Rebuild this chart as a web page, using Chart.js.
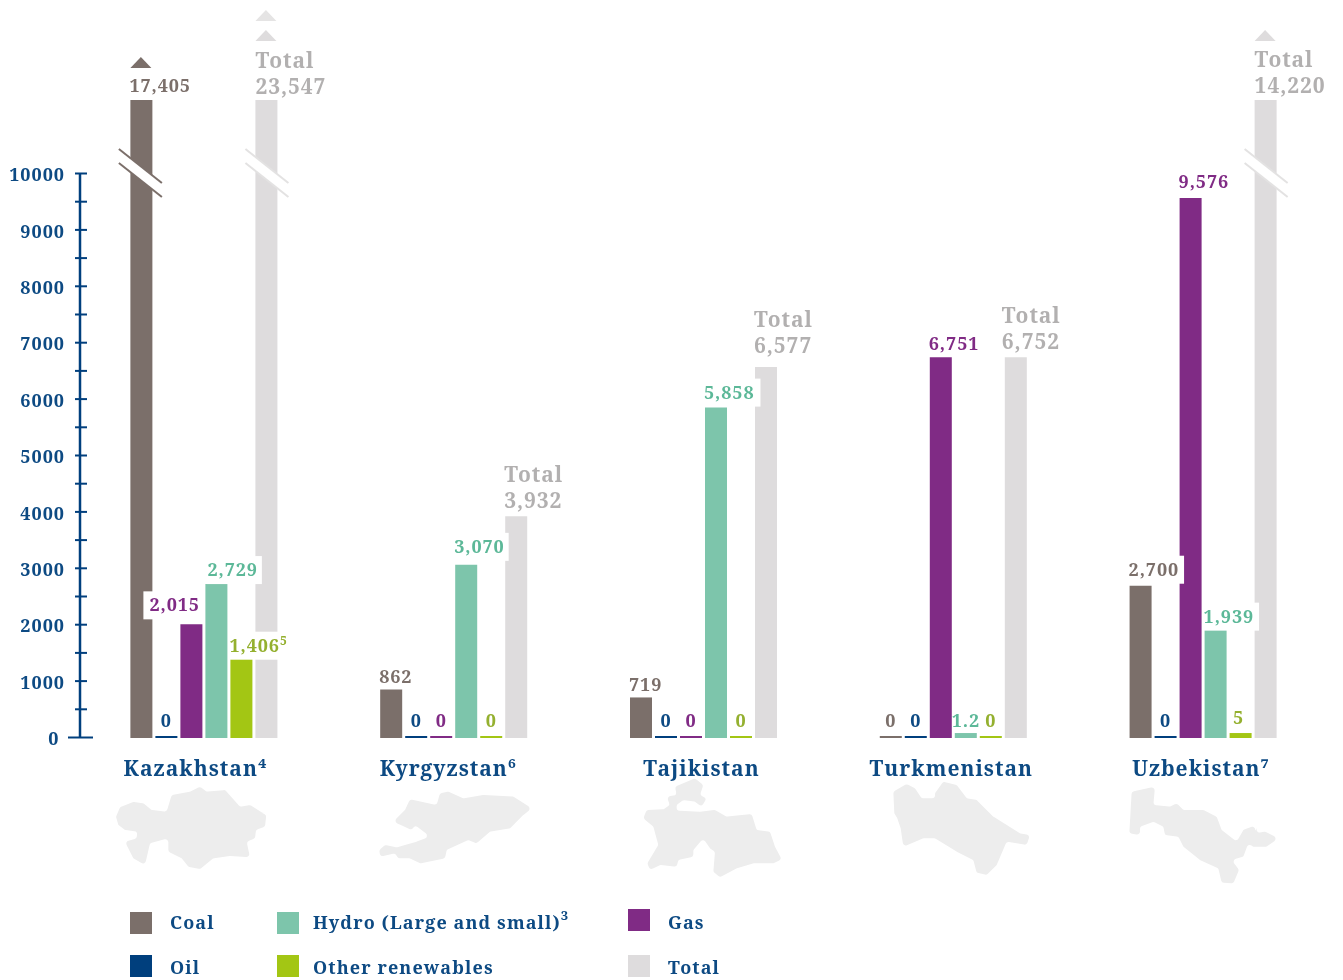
<!DOCTYPE html>
<html>
<head>
<meta charset="utf-8">
<title>Electricity generation by source</title>
<style>html,body{margin:0;padding:0;background:#fff}canvas{display:block}</style>
<script src="https://cdn.jsdelivr.net/npm/chart.js@4"></script>
</head>
<body>
<canvas id="c" width="1343" height="980"></canvas>
<script>
const categories = ['Kazakhstan⁴', 'Kyrgyzstan⁶', 'Tajikistan', 'Turkmenistan', 'Uzbekistan⁷'];
const coal  = [17405, 862, 719, 0, 2700];
const oil   = [0, 0, 0, 0, 0];
const gas   = [2015, 0, 0, 6751, 9576];
const hydro = [2729, 3070, 5858, 1.2, 1939];
const other = [1406, 0, 0, 0, 5];
const total = [23547, 3932, 6577, 6752, 14220];
const yTicks = [0,500,1000,1500,2000,2500,3000,3500,4000,4500,5000,5500,6000,6500,7000,7500,8000,8500,9000,9500,10000];

// the axis is broken above 10000: taller bars stop at this height
const breakCeil = 11312;
const smallFloor = 88;
const show = v => v === 0 ? 0 : Math.min(Math.max(v, smallFloor), breakCeil);

const FONT = '"Noto Serif","DejaVu Serif",serif';
const BLUE = '#0d4a83';
const series = [
  {label:'Coal', values:coal, color:'#7b6f6a', text:'#7b6f6a', cut:'#7b6f6a'},
  {label:'Oil', values:oil, color:'#003f7d', text:'#0d4a83'},
  {label:'Gas', values:gas, color:'#802b85', text:'#802b85'},
  {label:'Hydro (Large and small)', values:hydro, color:'#7dc5ab', text:'#5cb898'},
  {label:'Other renewables', values:other, color:'#a3c614', text:'#94b02f'},
  {label:'Total', values:total, color:'#dedcdd', text:'#b2b0b0', cut:'#e3e2e2'}
];
// label tweaks: "series,country" -> horizontal nudge / vertical nudge / white plate padding
const nudge = {'2,0':-30,'3,0':3,'4,4':-2,'5,0':1,'5,3':-2,'5,4':1};
const nudgeY = {'0,0':3,'0,1':4,'0,2':4,'0,4':1,'2,0':-2,'2,3':4,'2,4':1,'3,0':3,'3,1':-1,'3,2':2,'3,4':5,'4,0':4,'5,0':4,'5,1':2,'5,2':-4,'5,3':2,'5,4':3};
const plates = {'2,0':[6,1],'3,0':[1,4],'4,0':[0,0],'3,1':[1,4],'3,2':[1,6],'0,4':[1,5],'3,4':[1,5]};
const superscripts = {'4,0':'5'};
const labelPad = ['\u00a0\u00a0','\u00a0','','',''];

const legendCells = [
  [0,130,912,170,924],[1,130,955,170,969],[3,277,912,313,924],
  [4,277,955,313,969],[2,628,909,668,924],[5,628,955,668,969]
];

const maps = [
 [[48,140],[60,112],[100,96],[130,100],[155,120],[200,125],[215,75],[270,65],[300,50],[320,65],[375,60],[420,110],[450,105],[490,130],[500,125],[495,170],[468,180],[465,205],[440,215],[450,262],[390,258],[340,265],[300,297],[265,290],[245,265],[205,245],[205,205],[150,220],[135,285],[100,265],[75,215],[110,205],[112,185],[75,180],[55,165]],
 [[880,155],[915,120],[930,88],[1010,105],[1020,70],[1045,65],[1090,85],[1150,75],[1240,80],[1295,115],[1270,135],[1230,175],[1170,185],[1130,220],[1105,210],[1040,240],[1035,265],[960,280],[930,265],[895,265],[885,250],[840,260],[838,240],[855,225],[890,232],[915,225],[950,215],[990,200],[945,165],[935,180]],
 [[405,25],[430,45],[420,75],[440,85],[425,110],[405,95],[370,90],[350,105],[350,122],[420,125],[465,120],[500,140],[575,132],[590,180],[630,185],[645,230],[665,268],[640,280],[580,280],[530,295],[480,322],[460,305],[465,245],[450,235],[430,205],[400,240],[400,260],[355,270],[350,290],[300,285],[270,300],[262,280],[295,225],[280,170],[250,145],[260,120],[310,118],[330,105],[320,80],[350,75],[345,50]],
 [[1000,65],[1040,42],[1065,55],[1085,85],[1125,85],[1125,70],[1150,35],[1190,45],[1220,85],[1250,90],[1300,140],[1380,190],[1410,195],[1400,225],[1340,215],[1310,285],[1280,315],[1250,308],[1240,270],[1190,245],[1125,205],[1090,205],[1030,230],[1022,175],[1012,145],[1003,130]],
 [[275,755],[345,740],[340,795],[390,800],[410,790],[430,810],[490,810],[530,830],[545,870],[590,905],[610,870],[660,850],[640,880],[675,875],[715,895],[680,920],[640,920],[625,910],[610,950],[575,960],[597,990],[580,1030],[545,1028],[535,985],[480,960],[430,920],[415,890],[375,885],[370,860],[340,845],[300,860],[300,885],[268,880]]
];
const mapOrigin = [[100,770],[100,770],[560,770],[560,770],[1040,540]];

const artPlugin = {
  id:'art',
  beforeDraw(chart){
    // the axis texts of the reference are slightly letter-spaced
    if ('letterSpacing' in chart.ctx) chart.ctx.letterSpacing = '1px';
  },
  beforeDatasetsDraw(chart){
    const ctx = chart.ctx, y = chart.scales.y, xAxis = Math.round(chart.chartArea.left)+1.5;
    ctx.save();
    // silhouettes with slightly rounded corners
    ctx.fillStyle = '#ededed';
    maps.forEach((m,i)=>{
      const pts = m.map(([a,b])=>[mapOrigin[i][0]+a/3, mapOrigin[i][1]+b/3]);
      const n = pts.length;
      ctx.beginPath();
      ctx.moveTo((pts[n-1][0]+pts[0][0])/2,(pts[n-1][1]+pts[0][1])/2);
      pts.forEach(([px,py],k)=>{
        const [nx,ny] = pts[(k+1)%n];
        ctx.arcTo(px,py,(px+nx)/2,(py+ny)/2,3);
      });
      ctx.closePath(); ctx.fill();
    });
    // axis line and ticks
    ctx.strokeStyle = '#003f7d';
    ctx.lineWidth = 2.5;
    ctx.beginPath();
    ctx.moveTo(xAxis-0.5, y.getPixelForValue(10000)-1);
    ctx.lineTo(xAxis-0.5, y.getPixelForValue(0));
    ctx.stroke();
    ctx.lineWidth = 2;
    y.ticks.forEach(t=>{
      const py = y.getPixelForValue(t.value)-0.5;
      ctx.beginPath();
      ctx.moveTo(t.value===0 ? 68 : 75, py);
      ctx.lineTo(t.value===0 ? 93 : 87, py);
      ctx.stroke();
    });
    // legend
    ctx.textBaseline = 'middle'; ctx.textAlign = 'left';
    ctx.font = 'bold 18px '+FONT;
    ctx.letterSpacing = '1.1px';
    legendCells.forEach(([s,bx,by,tx,ty])=>{
      const d = chart.data.datasets[s];
      ctx.fillStyle = d.backgroundColor;
      ctx.fillRect(bx,by,22,22);
      ctx.fillStyle = BLUE;
      ctx.fillText(d.label,tx,ty);
      if (s===3){
        const w = ctx.measureText(d.label).width;
        ctx.font = 'bold 13px '+FONT;
        ctx.fillText('3',tx+w,ty-8);
        ctx.font = 'bold 18px '+FONT;
      }
    });
    ctx.restore();
  },
  afterDatasetsDraw(chart){
    const ctx = chart.ctx;
    ctx.save();
    // axis-break marks on clipped bars
    series.forEach((s,si)=>{
      s.values.forEach((v,ci)=>{
        if (v <= breakCeil) return;
        const el = chart.getDatasetMeta(si).data[ci];
        const shift = si===5 ? 2 : 0.5;
        const dx1 = el.x-23+shift, dx2 = el.x+20+shift;
        ctx.fillStyle = '#fff';
        ctx.beginPath();
        ctx.moveTo(dx1,149);ctx.lineTo(dx2,183);ctx.lineTo(dx2,197);ctx.lineTo(dx1,163);
        ctx.closePath();ctx.fill();
        ctx.strokeStyle = s.cut; ctx.lineWidth = 2;
        [[149,183],[163,197]].forEach(([a,b])=>{
          ctx.beginPath();ctx.moveTo(dx1,a);ctx.lineTo(dx2,b);ctx.stroke();
        });
        // arrows over clipped bars
        const twoLine = si===5;
        const base = el.y-(twoLine?59:32);
        const n = v>=20000 ? 2 : 1;
        for(let k=0;k<n;k++){
          ctx.fillStyle = k ? '#e5e4e4' : s.color;
          const by = base-k*20;
          ctx.beginPath();
          ctx.moveTo(el.x-11,by);ctx.lineTo(el.x+10,by);ctx.lineTo(el.x-0.5,by-11);
          ctx.closePath();ctx.fill();
        }
      });
    });
    // value labels
    ctx.textBaseline = 'middle';
    ctx.textAlign = 'left';
    ctx.letterSpacing = '0.9px';
    series.forEach((s,si)=>{
      s.values.forEach((v,ci)=>{
        const el = chart.getDatasetMeta(si).data[ci];
        const key = si+','+ci;
        const txt = v.toLocaleString('en-US');
        const big = si===5;
        const font = 'bold '+(big?21:18)+'px '+FONT;
        ctx.font = font;
        const w = ctx.measureText(txt).width;
        const small = v<100;
        let left = small ? el.x-w/2 : el.x-12;
        left += nudge[key]||0;
        const cy = (small ? (v<2 ? 722 : 719) : el.y-16) + (nudgeY[key]||0);
        const sup = superscripts[key];
        const plate = plates[key];
        if (plate){
          const sw = sup ? 9 : 0;
          ctx.fillStyle = '#fff';
          ctx.fillRect(left-plate[0],cy-15,w+sw+plate[0]+plate[1],28);
        }
        ctx.fillStyle = s.text;
        ctx.fillText(txt,left,cy);
        if (sup){
          ctx.font = 'bold 12px '+FONT;
          ctx.fillText(sup,left+w,cy-5);
          ctx.font = font;
        }
        if (big) ctx.fillText('Total',left,cy-26);
      });
    });
    ctx.restore();
  }
};

new Chart(document.getElementById('c'),{
  type:'bar',
  data:{
    labels:categories,
    datasets:series.map(s=>({
      label:s.label,
      data:s.values.map(show),
      backgroundColor:s.color,
      hoverBackgroundColor:s.color,
      borderWidth:0,
      minBarLength:2,
      categoryPercentage:0.6006,
      barPercentage:0.88
    }))
  },
  options:{
    responsive:false,
    animation:false,
    devicePixelRatio:1,
    layout:{autoPadding:false,padding:{left:0,right:15,top:0,bottom:0}},
    plugins:{legend:{display:false},tooltip:{enabled:false},title:{display:false}},
    scales:{
      x:{
        grid:{display:false},border:{display:false},
        afterFit(a){a.height=242;a.paddingLeft=0;a.paddingRight=0;},
        ticks:{
          color:BLUE,font:{family:FONT,size:21,weight:'bold'},padding:11,labelOffset:-2,maxRotation:0,autoSkip:false,
          callback(v,i){return categories[i]+labelPad[i];}
        }
      },
      y:{
        min:0,max:13085,
        grid:{display:false},border:{display:false},
        afterFit(a){a.width=79;a.paddingTop=0;a.paddingBottom=0;},
        afterBuildTicks(a){a.ticks=yTicks.map(value=>({value}));},
        ticks:{
          color:BLUE,font:{family:FONT,size:18,weight:'bold'},padding:6,labelOffset:2,autoSkip:false,
          callback:v=>v===0?'0\u00a0':(v%1000===0?String(v):'')
        }
      }
    }
  },
  plugins:[artPlugin]
});
</script>
</body>
</html>
